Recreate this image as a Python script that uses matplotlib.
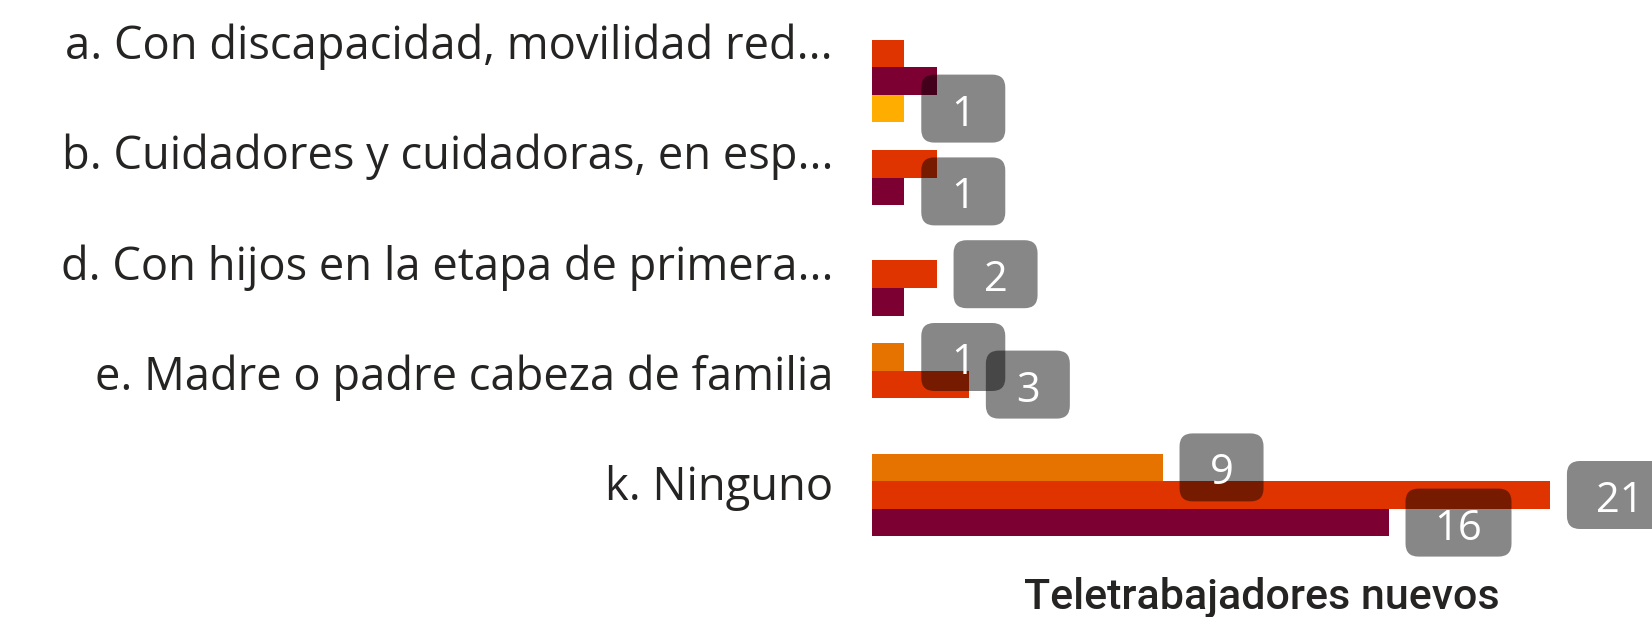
import matplotlib
matplotlib.use("Agg")
import matplotlib.pyplot as plt
from matplotlib.patches import FancyBboxPatch

categories = [
    "a. Con discapacidad, movilidad red...",
    "b. Cuidadores y cuidadoras, en esp...",
    "d. Con hijos en la etapa de primera...",
    "e. Madre o padre cabeza de familia",
    "k. Ninguno",
]
orange = [0, 0, 0, 1, 9]
red = [1, 2, 2, 3, 21]
maroon = [2, 1, 1, 0, 16]
yellow = [1, 0, 0, 0, 0]
series = [orange, red, maroon, yellow]
colors = ["#E67300", "#E03400", "#7D0033", "#FFAE00"]

# data labels that are visible in the chart: (category index, series index)
shown_labels = [(0, 3), (1, 2), (2, 1), (3, 0), (3, 1), (4, 0), (4, 1), (4, 2)]

W, H = 1652, 617
fig = plt.figure(figsize=(W / 100, H / 100), dpi=100)
left, right = 872, 1650
top, bottom = 12, 564
ax = fig.add_axes([left / W, 1 - bottom / H, (right - left) / W, (bottom - top) / H])

XMAX = 24.1
n = len(categories)
slot = 1 / len(series)
for s, vals in enumerate(series):
    ys = [i + slot * (s + 0.5) for i in range(n)]
    ax.barh(ys, vals, height=slot, color=colors[s], linewidth=0)

ax.set_xlim(0, XMAX)
ax.set_ylim(n, 0)

# pixel -> data conversion
px_x = XMAX / (right - left)
px_y = n / (bottom - top)
aspect = px_y / px_x

for ci, si in shown_labels:
    v = series[si][ci]
    yc = ci + slot * (si + 0.5)
    txt = str(v)
    bw = (84 if len(txt) == 1 else 106) * px_x
    bh = 68 * px_y
    x0 = v + 17 * px_x
    box = FancyBboxPatch((x0, yc - bh / 2), bw, bh,
                         boxstyle="round,pad=0,rounding_size=%f" % (13 * px_x),
                         mutation_aspect=aspect, facecolor="black", alpha=0.47,
                         edgecolor="none", clip_on=False)
    ax.add_patch(box)
    ax.text(x0 + bw / 2, yc + 6 * px_y, txt, color="white", fontsize=30,
            family="Open Sans", ha="center", va="center", clip_on=False)

ax.set_yticks([i + 0.265 for i in range(n)])
ax.set_yticklabels(categories, fontsize=32.6, family="Open Sans", color="#252423")
ax.tick_params(axis="y", length=0, pad=28)
ax.set_xticks([])
for sp in ax.spines.values():
    sp.set_visible(False)

fig.text((1027 + 1496) / 2 / W, 1 - 598 / H, "Teletrabajadores nuevos",
         fontsize=31, family="Roboto", weight="medium", color="#252423",
         ha="center", va="center")

fig.savefig("out.png", dpi=100)
